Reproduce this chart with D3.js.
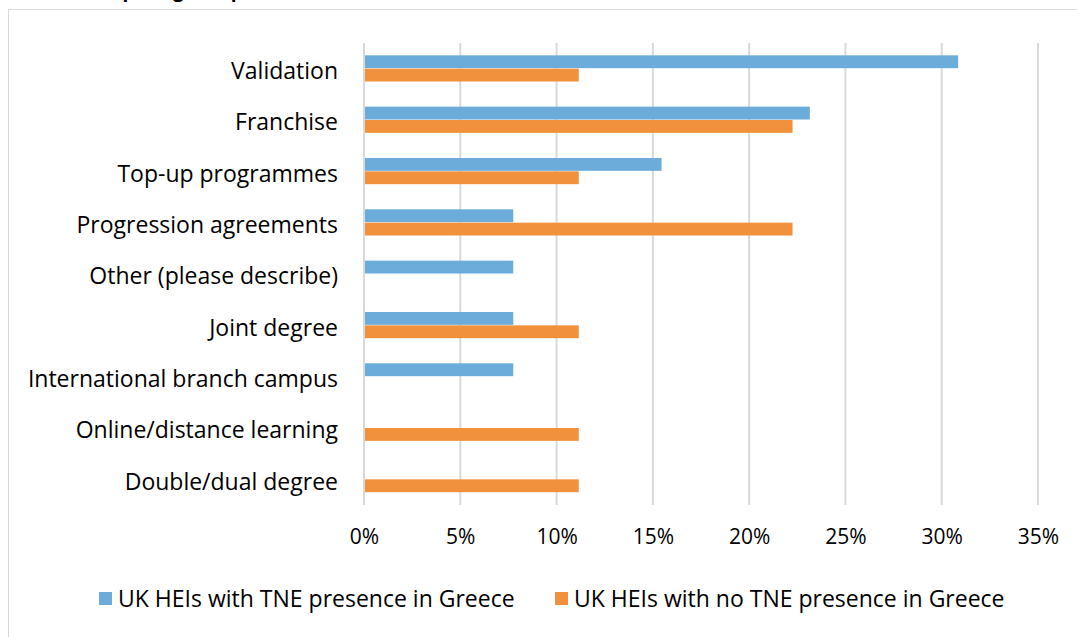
<!DOCTYPE html>
<html>
<head>
<meta charset="utf-8">
<script src="https://cdn.jsdelivr.net/npm/d3@7"></script>
<style>
body{margin:0;background:#fff;}
text{font-family:"Open Sans",sans-serif;fill:#000;}
</style>
</head>
<body>
<script>
var W=1077,H=637
var margin={top:43,left:364,right:39,bottom:132}

// data
var categories=["Validation","Franchise","Top-up programmes","Progression agreements","Other (please describe)","Joint degree","International branch campus","Online/distance learning","Double/dual degree"]
var withPresence=[30.8,23.1,15.4,7.7,7.7,7.7,7.7,0,0]
var noPresence=[11.1,22.2,11.1,22.2,0,11.1,0,11.1,11.1]
var seriesNames=["UK HEIs with TNE presence in Greece","UK HEIs with no TNE presence in Greece"]
var colors=["#6BACDB","#F2913C"]
var xTicks=[0,5,10,15,20,25,30,35]

var svg=d3.select('body').append('svg')
	.attr('width',W).attr('height',H)

// outer frame
svg.append('rect').attr('x',8.5).attr('y',9.5).attr('width',1100).attr('height',700)
	.attr('fill','none').attr('stroke','#d9d9d9')

// title, cut off at the top like the source
svg.append('text').attr('x',80).attr('y',-3)
	.style('font-size','19px').style('font-weight','bold')
	.text('Comparing TNE provision')

var x=d3.scaleLinear().domain([0,35]).range([margin.left,W-margin.right])
var y=d3.scaleBand().domain(categories).range([margin.top,H-margin.bottom]).paddingInner(0.48).paddingOuter(0.24)
var sub=d3.scaleBand().domain([0,1]).range([0,y.bandwidth()])

// gridlines
svg.append('g').selectAll('line').data(xTicks).enter().append('line')
	.attr('x1',function(d){return x(d)}).attr('x2',function(d){return x(d)})
	.attr('y1',margin.top).attr('y2',H-margin.bottom)
	.attr('stroke','#d9d9d9').attr('stroke-width',2)

var series=[withPresence,noPresence]
series.forEach(function(vals,s){
	svg.append('g').selectAll('rect').data(vals).enter().append('rect')
		.attr('x',x(0)+1)
		.attr('y',function(d,i){return y(categories[i])+sub(s)})
		.attr('width',function(d){return Math.max(0,x(d)-x(0))})
		.attr('height',sub.bandwidth()-0.5)
		.attr('fill',colors[s])
})

// x axis labels
var xAxis=d3.axisBottom(x).tickValues(xTicks).tickSize(0).tickPadding(0)
	.tickFormat(function(d){return d+'%'})
var xg=svg.append('g').attr('transform','translate(0,'+(H-margin.bottom+24)+')').call(xAxis)
xg.select('.domain').remove()
xg.selectAll('text').style('font-size','21px').style('font-family','"Open Sans",sans-serif').attr('fill','#000')

// category labels
var yAxis=d3.axisLeft(y).tickSize(0).tickPadding(26)
var yg=svg.append('g').attr('transform','translate('+margin.left+',3)').call(yAxis)
yg.select('.domain').remove()
yg.selectAll('text').style('font-size','23px').style('font-family','"Open Sans",sans-serif').attr('fill','#000')

// legend
var legendX=[99,555]
var lg=svg.append('g').selectAll('g').data(seriesNames).enter().append('g')
	.attr('transform',function(d,i){return 'translate('+legendX[i]+',592)'})
lg.append('rect').attr('width',13).attr('height',13).attr('fill',function(d,i){return colors[i]})
lg.append('text').attr('x',19).attr('y',15).style('font-size','23px').text(function(d){return d})
</script>
</body>
</html>
